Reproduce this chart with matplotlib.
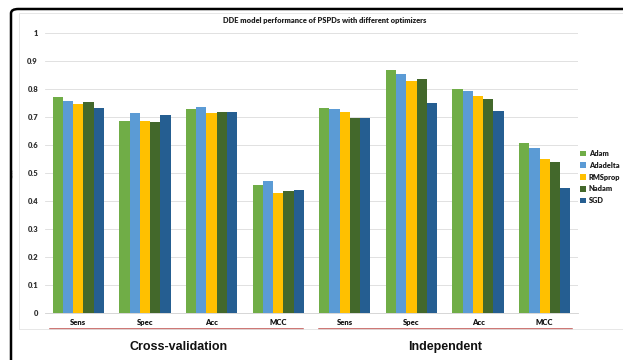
import matplotlib
matplotlib.use("Agg")
import matplotlib.pyplot as plt
import numpy as np
from matplotlib.patches import FancyBboxPatch, Rectangle
from matplotlib.lines import Line2D
from matplotlib.transforms import blended_transform_factory

categories = ["Sens", "Spec", "Acc", "MCC", "Sens", "Spec", "Acc", "MCC"]
groups = ["Cross-validation", "Independent"]
optimizers = ["Adam", "Adadelta", "RMSprop", "Nadam", "SGD"]
adam     = [0.773, 0.687, 0.730, 0.458, 0.732, 0.867, 0.799, 0.606]
adadelta = [0.757, 0.714, 0.736, 0.471, 0.730, 0.852, 0.792, 0.588]
rmsprop  = [0.748, 0.685, 0.716, 0.429, 0.718, 0.829, 0.774, 0.550]
nadam    = [0.755, 0.681, 0.718, 0.436, 0.696, 0.834, 0.764, 0.538]
sgd      = [0.732, 0.707, 0.719, 0.438, 0.698, 0.749, 0.722, 0.446]
series = [adam, adadelta, rmsprop, nadam, sgd]
colors = ["#70AD47", "#5B9BD5", "#FFC000", "#43682B", "#255E91"]
yticks = [0, 0.1, 0.2, 0.3, 0.4, 0.5, 0.6, 0.7, 0.8, 0.9, 1]
ytick_labels = ["0", "0.1", "0.2", "0.3", "0.4", "0.5", "0.6", "0.7", "0.8", "0.9", "1"]

W, H = 623, 360
fig = plt.figure(figsize=(W / 100, H / 100), dpi=100)
fig.patch.set_facecolor("white")

def fx(px):
    return px / W

def fy(py):
    return 1 - py / H

# outer black rounded frame
frame = FancyBboxPatch((fx(11), fy(375)), fx(640) - fx(11), fy(9) - fy(375),
                       boxstyle="round,pad=0,rounding_size=0.012",
                       transform=fig.transFigure, facecolor="none",
                       edgecolor="black", linewidth=1.8, zorder=0)
fig.patches.append(frame)
# inner faint chart-area box
inner = Rectangle((fx(19), fy(329)), fx(640) - fx(19), fy(13) - fy(329),
                  transform=fig.transFigure, facecolor="none",
                  edgecolor="#E3E3E3", linewidth=0.6, zorder=0)
fig.patches.append(inner)

ax = fig.add_axes([fx(45), fy(313), fx(578) - fx(45), fy(33) - fy(313)])
font = "Lato"

n = len(series)
bw = 0.154
x = np.arange(len(categories))
for i, (vals, c, name) in enumerate(zip(series, colors, optimizers)):
    ax.bar(x + (i - (n - 1) / 2) * bw, vals, width=bw, color=c, label=name,
           zorder=3, linewidth=0)

ax.set_xlim(-0.5, len(categories) - 0.5)
ax.set_ylim(0, 1)
ax.set_yticks(yticks)
ax.set_yticklabels(ytick_labels, fontsize=5.5, fontfamily=font,
                   fontweight="heavy", color="#303030")
ax.set_xticks(x)
ax.set_xticklabels(categories, fontsize=5.5, fontfamily=font,
                   fontweight="heavy", color="#151515")
ax.tick_params(axis="both", length=0)
ax.tick_params(axis="y", pad=5)
ax.tick_params(axis="x", pad=4)
ax.grid(axis="y", color="#DCDCDC", linewidth=0.6, zorder=0)
ax.set_axisbelow(True)
for s in ["top", "right", "left"]:
    ax.spines[s].set_visible(False)
ax.spines["bottom"].set_color("#D0D0D0")
ax.spines["bottom"].set_linewidth(0.6)

ax.set_ylabel("Value", fontsize=2.5, color="#A0A0A0", labelpad=9)

# red underline lines beneath each group
trans = blended_transform_factory(ax.transData, ax.transAxes)
yl = -(329 - 313) / 280
for x0, x1 in [(-0.425, 3.374), (3.614, 7.413)]:
    ax.add_line(Line2D([x0, x1], [yl, yl], transform=trans, color="#C0504D",
                       linewidth=1.1, clip_on=False))

# group labels
for gi, g in enumerate(groups):
    cx = 1.5 + 4 * gi
    ax.text(cx, -(347 - 313) / 280, g, transform=trans, ha="center",
            va="center", fontsize=9, fontweight="bold",
            fontfamily="Liberation Sans", color="#111111")

fig.text(fx(325), fy(21), "DDE model performance of PSPDs with different optimizers",
         ha="center", va="center", fontsize=5.4, fontfamily=font,
         fontweight="heavy", color="#202020")

leg = ax.legend(loc="upper left", bbox_to_anchor=(fx(580), fy(150)),
                bbox_transform=fig.transFigure, frameon=False,
                prop={"family": font, "size": 5.3, "weight": "heavy"},
                handlelength=0.8, handleheight=0.8, handletextpad=0.4,
                labelspacing=0.65, borderpad=0, borderaxespad=0)
for t in leg.get_texts():
    t.set_color("#202020")

fig.savefig("out.png", dpi=100, facecolor="white")
